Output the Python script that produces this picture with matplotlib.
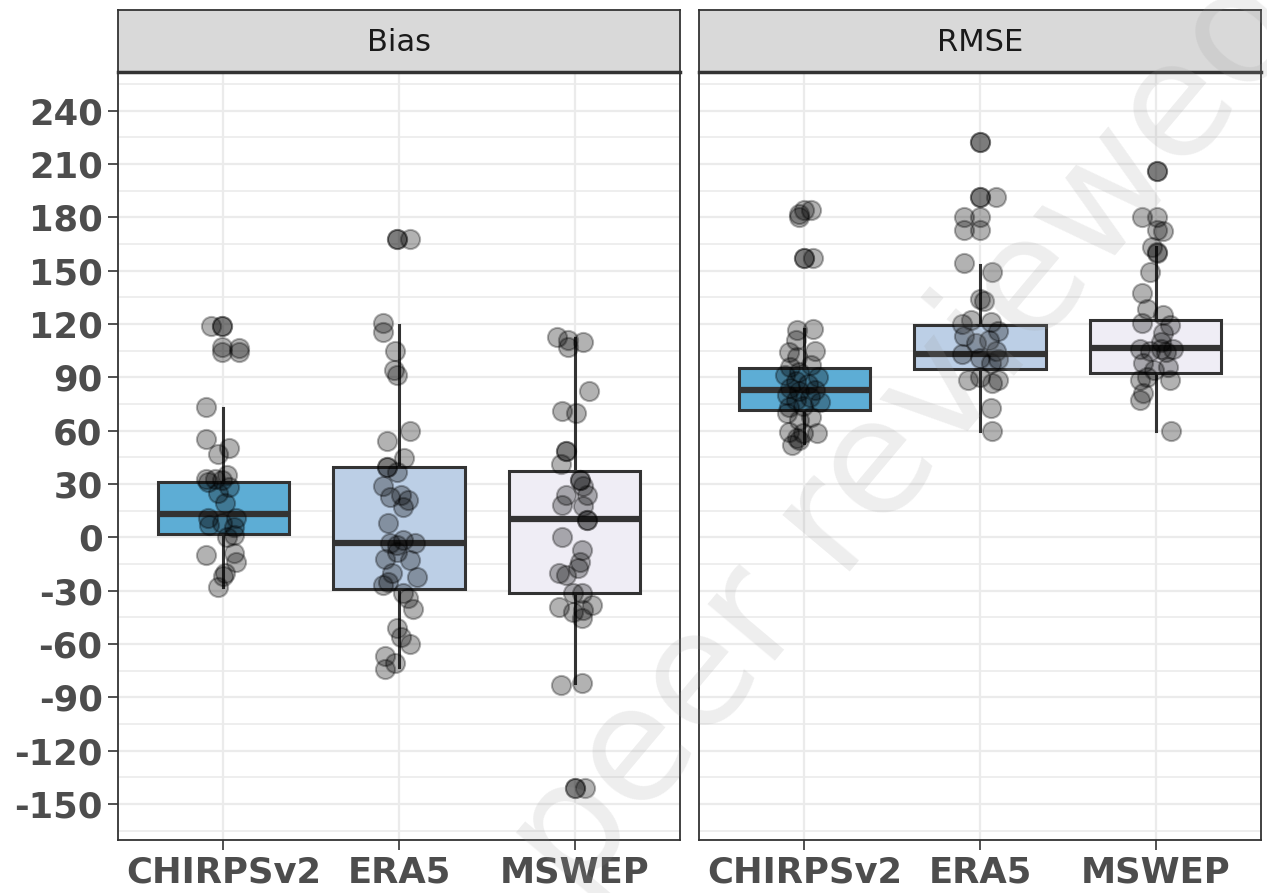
import numpy as np
import matplotlib.pyplot as plt

plt.rcParams['axes.unicode_minus'] = False

# categories and facet titles
categories = ["CHIRPSv2", "ERA5", "MSWEP"]
panels = ["Bias", "RMSE"]
box_colors = ["#5DADD5", "#BCCFE6", "#EFEDF5"]

# box statistics: lower whisker, Q1, median, Q3, upper whisker
bias_lo = [-28, -73, -82]
bias_q1 = [2, -29, -31.5]
bias_med = [13, -3.5, 10]
bias_q3 = [31, 39.5, 37]
bias_hi = [72.5, 119.5, 112]

rmse_lo = [53, 60, 60]
rmse_q1 = [71.5, 94.5, 92.5]
rmse_med = [83, 103, 106.5]
rmse_q3 = [95, 119.5, 122]
rmse_hi = [117, 153, 163.5]

# individual (jittered) stations: values and horizontal jitter
bias_chirps_y = [119, 119, 119, 107, 104, 106.5, 104, 73, 55, 47, 50, 33, 33, 32, 28, 25,
                 31, 35, 19, 11, 11, 7, 8, 6, 0, 1, -10, -9, -14, -20, -22, -28]
bias_chirps_dx = [-0.07, -0.01, -0.01, -0.01, -0.01, 0.09, 0.09, -0.10, -0.10, -0.03, 0.03,
                  -0.10, -0.05, -0.01, 0.03, -0.03, -0.09, 0.02, 0.01, -0.09, 0.07, -0.08,
                  -0.01, 0.06, 0.02, 0.06, -0.10, 0.06, 0.07, 0.01, 0.00, -0.03]

bias_era5_y = [168, 168, 168, 120.5, 115.5, 105, 94, 91, 60, 54, 44.5, 39.5, 39.5, 36.5, 29,
               22.5, 23.5, 21, 17, 8, -3.5, -1.5, -3.5, -4.5, -12, -8.5, -13, -20, -22.5, -27,
               -25, -31.5, -34, -40.5, -51, -56, -60, -67, -71, -74]
bias_era5_dx = [-0.01, -0.01, 0.06, -0.09, -0.09, -0.02, -0.03, -0.01, 0.06, -0.07, 0.03,
                -0.07, -0.07, -0.01, -0.09, -0.05, 0.01, 0.05, 0.02, -0.06, -0.05, 0.02, 0.09,
                -0.01, -0.08, -0.01, 0.06, -0.04, 0.10, -0.09, -0.06, 0.02, 0.05, 0.08, -0.01,
                0.01, 0.06, -0.08, -0.02, -0.08]

bias_mswep_y = [112.5, 111, 107, 110, 82, 71, 70, 48.5, 48.5, 41, 32, 32, 29, 23.5, 18, 23.5,
                17.5, 9.5, 9.5, 0, -7, -20, -21.5, -17.5, -14, -31.5, -31.5, -39.5, -42, -45.5,
                -38, -41, -83, -82, -141, -141, -141]
bias_mswep_dx = [-0.10, -0.04, -0.04, 0.05, 0.08, -0.07, 0.01, -0.05, -0.05, -0.08, 0.03, 0.03,
                 0.05, -0.05, -0.07, 0.07, 0.05, 0.07, 0.07, -0.07, 0.04, -0.09, -0.05, 0.02,
                 0.03, -0.01, 0.04, -0.09, -0.01, 0.04, 0.10, 0.05, -0.08, 0.04, 0.00, 0.00, 0.06]

rmse_chirps_y = [182, 184, 184, 180, 157, 157, 157, 116.5, 117, 111, 104, 105, 101.5,
                 96, 97, 93, 91, 90, 88, 86, 84, 83, 82, 80, 79, 77, 76, 74, 73,
                 70, 67.5, 66, 59, 58.5, 56, 58.5, 52, 54.5]
rmse_chirps_dx = [-0.03, 0.00, 0.04, -0.03, 0.00, 0.00, 0.05, -0.04, 0.05, -0.05, -0.09, 0.06,
                  -0.04, -0.08, 0.04, -0.03, -0.11, 0.08, -0.05, 0.02, -0.08, 0.06, -0.03, -0.10,
                  0.03, -0.05, 0.09, -0.01, -0.09, -0.10, 0.04, -0.03, -0.09, 0.07, -0.04, -0.01,
                  -0.07, -0.03]

rmse_era5_y = [222.5, 222.5, 191.5, 191.5, 191.5, 180, 173, 180, 173, 154, 149, 134, 133,
               120, 122, 121, 116, 113, 109, 111, 105, 103, 101, 98, 100,
               88.5, 87, 90, 88.5, 72.5, 60]
rmse_era5_dx = [0.00, 0.00, 0.00, 0.00, 0.09, -0.09, -0.09, 0.00, 0.00, -0.09, 0.07, 0.00, 0.02,
                -0.10, -0.05, 0.06, 0.10, -0.09, -0.02, 0.05, 0.09, -0.10, 0.00, 0.06, 0.10,
                -0.07, 0.07, 0.00, 0.10, 0.06, 0.07]

rmse_mswep_y = [206, 206, 180, 180, 173, 172, 163.5, 160.5, 160, 149, 137.5, 128.5, 125, 120.5,
                119.5, 115, 110, 106, 105, 106, 106, 104, 98, 96, 94, 90, 88.5, 88.5, 81, 77, 60]
rmse_mswep_dx = [0.01, 0.01, -0.08, 0.01, 0.01, 0.04, -0.02, 0.01, 0.01, -0.03, -0.08, -0.05,
                 0.04, -0.08, 0.08, 0.04, 0.03, -0.09, -0.03, 0.10, 0.03, 0.06, -0.07, 0.07,
                 -0.01, -0.05, 0.08, -0.09, -0.07, -0.09, 0.09]

stats = {
    "Bias": (bias_lo, bias_q1, bias_med, bias_q3, bias_hi),
    "RMSE": (rmse_lo, rmse_q1, rmse_med, rmse_q3, rmse_hi),
}
points = {
    "Bias": [(bias_chirps_y, bias_chirps_dx), (bias_era5_y, bias_era5_dx), (bias_mswep_y, bias_mswep_dx)],
    "RMSE": [(rmse_chirps_y, rmse_chirps_dx), (rmse_era5_y, rmse_era5_dx), (rmse_mswep_y, rmse_mswep_dx)],
}

W, H = 1267, 893
fig = plt.figure(figsize=(W / 100, H / 100), dpi=100)
fig.patch.set_facecolor("white")

dark = "#333333"
label_col = "#4D4D4D"
panel_left = [118, 699]
panel_w = 562
top_px, bottom_px, strip_top = 72, 840, 10

for i, name in enumerate(panels):
    left = panel_left[i]
    ax = fig.add_axes([left / W, (H - bottom_px) / H, panel_w / W, (bottom_px - top_px) / H])
    strip = fig.add_axes([left / W, (H - top_px) / H, panel_w / W, (top_px - strip_top) / H])

    lo, q1, med, q3, hi = stats[name]
    bstats = []
    for k in range(len(categories)):
        bstats.append({"whislo": lo[k], "q1": q1[k], "med": med[k], "q3": q3[k],
                       "whishi": hi[k], "fliers": []})
    pos = np.arange(1, len(categories) + 1)
    bp = ax.bxp(bstats, positions=pos, widths=0.75, patch_artist=True, showfliers=False,
                showcaps=False,
                boxprops=dict(edgecolor=dark, linewidth=2.2),
                whiskerprops=dict(color=dark, linewidth=2.2),
                medianprops=dict(color=dark, linewidth=4.5, solid_capstyle="butt"))
    for patch, c in zip(bp["boxes"], box_colors):
        patch.set_facecolor(c)
    for art in bp["boxes"] + bp["whiskers"] + bp["medians"]:
        art.set_zorder(2)

    for k, (yv, dx) in enumerate(points[name]):
        ax.scatter(pos[k] + np.array(dx), yv, s=190, color="black", alpha=0.3,
                   linewidths=1.5, edgecolors="black", zorder=3)

    ax.set_xlim(0.4, 3.6)
    ax.set_ylim(-170.3, 261.7)
    ax.set_xticks(pos)
    ax.set_xticklabels(categories)
    ax.set_yticks(np.arange(-150, 241, 30))
    ax.set_yticks(np.arange(-165, 256, 15), minor=True)
    ax.grid(True, which="major", color="#EBEBEB", linewidth=1.6, zorder=0)
    ax.grid(True, which="minor", axis="y", color="#EBEBEB", linewidth=1.2, zorder=0)
    ax.set_axisbelow(True)
    ax.tick_params(axis="both", which="major", length=7, width=1.2, color=dark,
                   labelsize=25.5, labelcolor=label_col, pad=4)
    ax.tick_params(axis="y", which="minor", length=0)
    for lab in ax.get_xticklabels() + ax.get_yticklabels():
        lab.set_fontweight("bold")
    if i == 1:
        ax.tick_params(axis="y", which="both", left=False, labelleft=False)
    for sp in ax.spines.values():
        sp.set_color(dark)
        sp.set_linewidth(1.3)

    strip.set_facecolor("#D9D9D9")
    strip.set_xticks([])
    strip.set_yticks([])
    for sp in strip.spines.values():
        sp.set_color(dark)
        sp.set_linewidth(1.3)
    strip.spines["bottom"].set_linewidth(2.5)
    strip.text(0.5, 0.47, name, ha="center", va="center", fontsize=22, color="#1A1A1A",
               transform=strip.transAxes)

# faint preprint watermark (cut by the figure edges, as in the source)
fig.text(575 / W, (H - 900) / H, "peer reviewed", rotation=50, rotation_mode="anchor",
         ha="left", va="baseline", fontsize=115, color="#9A9A9A", alpha=0.17, zorder=10)

fig.savefig("out.png", dpi=100)
